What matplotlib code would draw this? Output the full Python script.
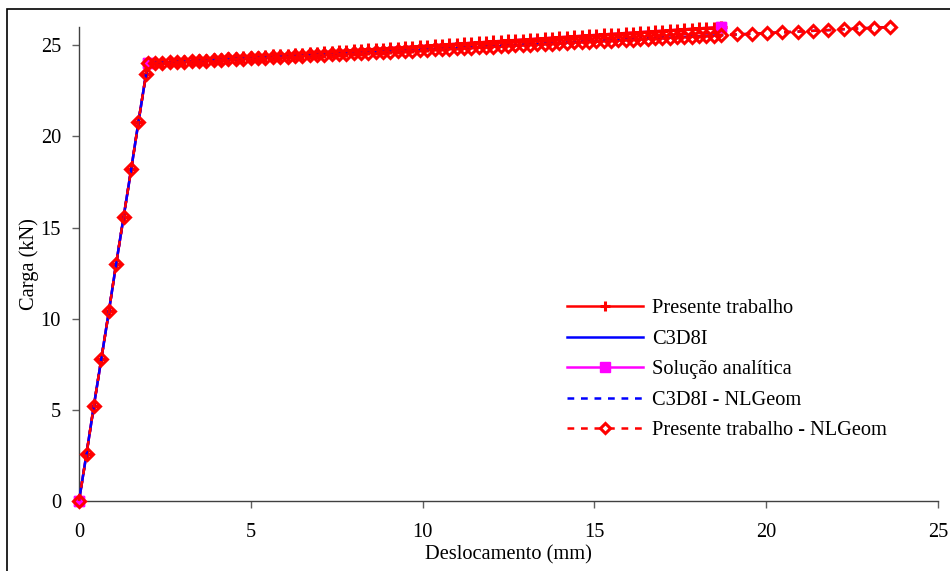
import matplotlib
matplotlib.use("Agg")
import matplotlib.pyplot as plt
from matplotlib.patches import Rectangle

# elastic branch (shared by all numerical series)
disp_elastic = [0.00, 0.22, 0.43, 0.65, 0.87, 1.08, 1.30, 1.52, 1.73, 1.95]
load_elastic = [0.0, 2.6, 5.2, 7.8, 10.4, 13.0, 15.6, 18.2, 20.8, 23.4]

# plastic branch, displacement steps (mm)
disp_plastic = [2.00, 2.21, 2.43, 2.64, 2.86, 3.07, 3.28, 3.50, 3.71, 3.93,
                4.14, 4.35, 4.57, 4.78, 5.00, 5.21, 5.42, 5.64, 5.85, 6.07,
                6.28, 6.49, 6.71, 6.92, 7.14, 7.35, 7.56, 7.78, 7.99, 8.21,
                8.42, 8.63, 8.85, 9.06, 9.28, 9.49, 9.70, 9.92, 10.13, 10.35,
                10.56, 10.77, 10.99, 11.20, 11.42, 11.63, 11.84, 12.06, 12.27, 12.49,
                12.70, 12.91, 13.13, 13.34, 13.56, 13.77, 13.98, 14.20, 14.41, 14.63,
                14.84, 15.05, 15.27, 15.48, 15.70, 15.91, 16.12, 16.34, 16.55, 16.77,
                16.98, 17.19, 17.41, 17.62, 17.84, 18.05, 18.26, 18.48, 18.69]

# Presente trabalho (linear geometry)
load_presente = [24.00, 24.03, 24.05, 24.08, 24.10, 24.13, 24.15, 24.18, 24.21, 24.23,
                 24.26, 24.28, 24.31, 24.33, 24.36, 24.38, 24.41, 24.44, 24.46, 24.49,
                 24.51, 24.54, 24.56, 24.59, 24.62, 24.64, 24.67, 24.69, 24.72, 24.74,
                 24.77, 24.79, 24.82, 24.85, 24.87, 24.90, 24.92, 24.95, 24.97, 25.00,
                 25.03, 25.05, 25.08, 25.10, 25.13, 25.15, 25.18, 25.21, 25.23, 25.26,
                 25.28, 25.31, 25.33, 25.36, 25.38, 25.41, 25.44, 25.46, 25.49, 25.51,
                 25.54, 25.56, 25.59, 25.62, 25.64, 25.67, 25.69, 25.72, 25.74, 25.77,
                 25.79, 25.82, 25.85, 25.87, 25.90, 25.92, 25.95, 25.97, 26.00]

# NLGeom curves
load_nlgeom = [24.00, 24.02, 24.04, 24.06, 24.08, 24.10, 24.12, 24.14, 24.16, 24.18,
               24.20, 24.22, 24.24, 24.26, 24.28, 24.30, 24.32, 24.34, 24.36, 24.38,
               24.40, 24.42, 24.44, 24.46, 24.48, 24.50, 24.52, 24.54, 24.55, 24.57,
               24.59, 24.61, 24.63, 24.65, 24.67, 24.69, 24.71, 24.73, 24.75, 24.77,
               24.79, 24.81, 24.83, 24.85, 24.87, 24.89, 24.91, 24.93, 24.95, 24.97,
               24.99, 25.01, 25.03, 25.05, 25.07, 25.09, 25.11, 25.13, 25.15, 25.17,
               25.19, 25.21, 25.23, 25.25, 25.27, 25.29, 25.31, 25.33, 25.35, 25.37,
               25.39, 25.41, 25.43, 25.45, 25.47, 25.49, 25.51, 25.53, 25.55]
disp_nlgeom_tail = [19.14, 19.58, 20.03, 20.47, 20.92, 21.36, 21.81, 22.25, 22.70, 23.14, 23.59]
load_nlgeom_tail = [25.59, 25.63, 25.67, 25.71, 25.75, 25.79, 25.83, 25.88, 25.92, 25.96, 26.00]

# analytical solution
disp_analitica = [0.0, 2.0, 18.69]
load_analitica = [0.0, 24.0, 26.0]

plt.rcParams['font.family'] = ['Liberation Serif', 'DejaVu Serif']
plt.rcParams['font.size'] = 14.7

fig = plt.figure(figsize=(9.5, 5.71), dpi=100)
ax = fig.add_axes([79/950, 70/571, (938-79)/950, (501-27)/571])

x_lin = disp_elastic + disp_plastic
y_lin = load_elastic + load_presente
x_nl = disp_elastic + disp_plastic + disp_nlgeom_tail
y_nl = load_elastic + load_nlgeom + load_nlgeom_tail

ax.plot(disp_analitica, load_analitica, color='#ff00ff', lw=1.8, zorder=1,
        marker='s', ms=6.5, label='Solução analítica', clip_on=False)
ax.plot(x_lin, y_lin, color='red', lw=1.8, marker='+', ms=8, mew=2.2,
        zorder=2, label='Presente trabalho', clip_on=False)
ax.plot(disp_elastic + disp_plastic, load_elastic + load_nlgeom, color='#0000ff',
        lw=1.8, zorder=3, label='C3D8I', clip_on=False)
ax.plot(disp_analitica, load_analitica, ls='none', marker='s', ms=6.5,
        color='#ff00ff', zorder=4, clip_on=False)
ax.plot(x_nl, y_nl, color='#0000ff', lw=1.8, dashes=(2.7, 2.7), zorder=5,
        label='C3D8I - NLGeom', clip_on=False)
ax.plot(x_nl, y_nl, color='red', lw=1.8, dashes=(2.7, 2.7), marker='D', ms=6,
        mew=2.2, mfc='none', zorder=6, label='Presente trabalho - NLGeom', clip_on=False)

ax.set_xlim(0, 25)
ax.set_ylim(0, 26)
ax.set_xticks([0, 5, 10, 15, 20, 25])
ax.set_yticks([0, 5, 10, 15, 20, 25])
ax.spines['top'].set_visible(False)
ax.spines['right'].set_visible(False)
for s in ('left', 'bottom'):
    ax.spines[s].set_color('#404040')
    ax.spines[s].set_linewidth(1.0)
ax.tick_params(direction='out', length=5, width=1, color='#606060')
ax.tick_params(axis='x', pad=11)
ax.tick_params(axis='y', pad=8)
ax.set_xlabel('Deslocamento (mm)', labelpad=2)
ax.set_ylabel('Carga (kN)', labelpad=1)

h, l = ax.get_legend_handles_labels()
order = ['Presente trabalho', 'C3D8I', 'Solução analítica', 'C3D8I - NLGeom',
         'Presente trabalho - NLGeom']
hs = [h[l.index(o)] for o in order]
leg = fig.legend(hs, order, loc='upper left', bbox_to_anchor=(567/950, 1-299/571),
                 frameon=False, borderpad=0, borderaxespad=0, handlelength=3.7,
                 handletextpad=0.45, labelspacing=0.55, numpoints=1)
leg.get_lines()[4].set_markerfacecolor('white')
leg.get_lines()[0].set_markersize(7)
leg.get_lines()[4].set_markersize(5)

fig.add_artist(Rectangle((7/950, -0.1), 1.2, 1 - 9/571 + 0.1, transform=fig.transFigure,
                         fill=False, ec='black', lw=1.2))

fig.savefig('out.png', dpi=100)
